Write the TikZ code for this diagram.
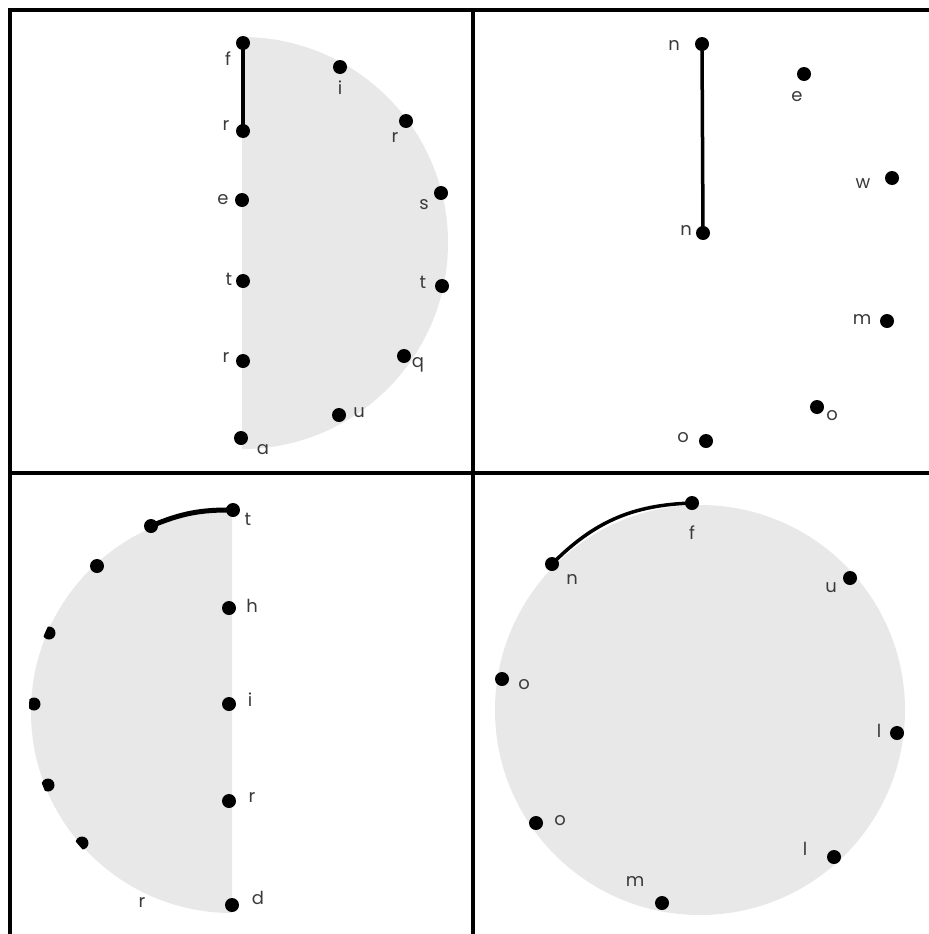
\documentclass[tikz,border=0pt]{standalone}
\usepackage{fontspec}
\setmainfont{Poppins}
\definecolor{discgray}{HTML}{E8E8E8}
\definecolor{lblgray}{HTML}{3A3A3A}
\begin{document}
\begin{tikzpicture}[x=1bp,y=-1bp,
  dot/.style={circle,fill=black,inner sep=0pt,minimum size=14bp},
  rimdot/.style={dot,minimum size=13bp},
  lbl/.style={text=lblgray,font=\fontsize{18}{18}\selectfont,inner sep=0pt,text height=1ex,text depth=0pt},
  framerule/.style={line width=4bp,black},
  conn/.style={line width=4bp,black},
  disc/.style={fill=discgray}]
\useasboundingbox (0,0) rectangle (929,934);
\fill[white] (0,0) rectangle (929,934);

% ---------- top-left ----------
\fill[disc] (242,37) arc[start angle=-90,end angle=90,radius=206] -- cycle;
\node[dot] (a1) at (243,43) {};
\node[dot] (a2) at (243,131) {};
\node[dot] (a3) at (242,200) {};
\node[dot] (a4) at (243,281) {};
\node[dot] (a5) at (243,361) {};
\node[dot] (a6) at (241,438) {};
\node[dot] (a7) at (340,67) {};
\node[dot] (a8) at (406,121) {};
\node[dot] (a9) at (441,193) {};
\node[dot] (a10) at (442,286) {};
\node[dot] (a11) at (404,356) {};
\node[dot] (a12) at (339,415) {};
\draw[conn] (a1.center) -- (a2.center);
\node[lbl] (la1) at (228,63) {f};
\node[lbl] (la2) at (226,128) {r};
\node[lbl] (la3) at (223,202) {e};
\node[lbl] (la4) at (229,283) {t};
\node[lbl] (la5) at (226,360) {r};
\node[lbl] (la6) at (263,452) {a};
\node[lbl] (la7) at (340,92) {i};
\node[lbl] (la8) at (395,140) {r};
\node[lbl] (la9) at (424,207) {s};
\node[lbl] (la10) at (423,286) {t};
\node[lbl] (la11) at (418,365) {q};
\node[lbl] (la12) at (359,415) {u};

% ---------- top-right ----------
\node[dot] (b1) at (702,44) {};
\node[dot] (b2) at (703,233) {};
\node[dot] (b3) at (804,74) {};
\node[dot] (b4) at (892,178) {};
\node[dot] (b5) at (887,321) {};
\node[dot] (b6) at (817,407) {};
\node[dot] (b7) at (706,441) {};
\draw[conn,line width=3.5bp] (b1.center) -- (b2.center);
\node[lbl] (lb1) at (674,48) {n};
\node[lbl] (lb2) at (686,233) {n};
\node[lbl] (lb3) at (797,99) {e};
\node[lbl] (lb4) at (863,186) {w};
\node[lbl] (lb5) at (862,322) {m};
\node[lbl] (lb6) at (832,418) {o};
\node[lbl] (lb7) at (683,440) {o};

% ---------- bottom-left ----------
\fill[disc] (232,913) arc[start angle=90,end angle=270,radius=201] -- cycle;
\node[dot] (c1) at (233,510) {};
\node[dot] (c2) at (151,526) {};
\node[dot] (c3) at (97,566) {};
\begin{scope}
  \clip (232,712) circle[radius=203];
  \node[rimdot] (c4) at (49,633) {};
  \node[rimdot] (c5) at (34,704) {};
  \node[rimdot] (c6) at (48,785) {};
  \node[rimdot] (c7) at (82,843) {};
\end{scope}
\node[dot] (c8) at (229,608) {};
\node[dot] (c9) at (229,704) {};
\node[dot] (c10) at (229,801) {};
\node[dot] (c11) at (232,905) {};
\draw[conn,line width=5bp] (c2.center) to[bend left=11.7] (c1.center);
\node[lbl] (lc1) at (248,523) {t};
\node[lbl] (lc8) at (252,610) {h};
\node[lbl] (lc9) at (250,704) {i};
\node[lbl] (lc10) at (252,800) {r};
\node[lbl] (lc11) at (258,902) {d};
\node[lbl] (lc12) at (142,905) {r};

% ---------- bottom-right ----------
\fill[disc] (700,710) circle[radius=205];
\node[dot] (d1) at (692,503) {};
\node[dot] (d2) at (552,564) {};
\node[dot] (d3) at (850,578) {};
\node[dot] (d4) at (502,679) {};
\node[dot] (d5) at (897,733) {};
\node[dot] (d6) at (536,823) {};
\node[dot] (d7) at (834,857) {};
\node[dot] (d8) at (662,903) {};
\draw[conn,line width=3.5bp] (d2.center) to[bend left=21.6] (d1.center);
\node[lbl] (ld1) at (692,537) {f};
\node[lbl] (ld2) at (572,582) {n};
\node[lbl] (ld3) at (831,590) {u};
\node[lbl] (ld4) at (524,687) {o};
\node[lbl] (ld5) at (879,735) {l};
\node[lbl] (ld6) at (560,823) {o};
\node[lbl] (ld7) at (805,853) {l};
\node[lbl] (ld8) at (635,884) {m};

% ---------- frame ----------
\coordinate (ftl) at (8,10);
\coordinate (ftr) at (929,10);
\coordinate (fl1) at (10,8);
\coordinate (fl2) at (10,934);
\coordinate (fv1) at (473,8);
\coordinate (fv2) at (473,934);
\coordinate (fh1) at (8,473);
\coordinate (fh2) at (929,473);
\draw[framerule] (ftl) -- (ftr);
\draw[framerule] (fl1) -- (fl2);
\draw[framerule] (fv1) -- (fv2);
\draw[framerule] (fh1) -- (fh2);
\end{tikzpicture}
\end{document}
